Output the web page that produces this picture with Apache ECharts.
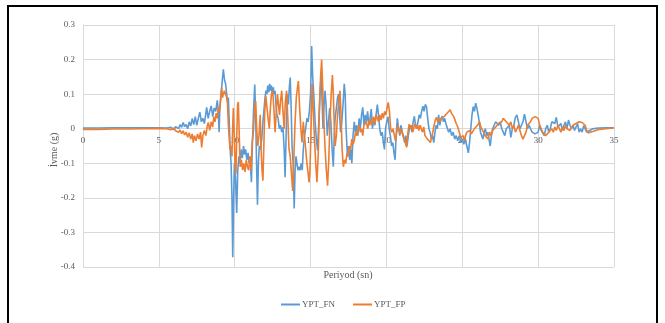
<!DOCTYPE html>
<html>
<head>
<meta charset="utf-8">
<script src="https://cdn.jsdelivr.net/npm/echarts@6/dist/echarts.min.js"></script>
<style>
  html, body { margin: 0; padding: 0; background: #ffffff; }
  #chart { width: 665px; height: 323px; }
</style>
</head>
<body>
<div id="chart"></div>
<script>
// Ground acceleration records (g) against time (s)
const xTicks = [0, 5, 10, 15, 20, 25, 30, 35];
const yTicks = [-0.4, -0.3, -0.2, -0.1, 0, 0.1, 0.2, 0.3];
const seriesNames = ['YPT_FN', 'YPT_FP'];

const fnTime = [
  0, 1, 2, 3, 4, 5, 5.5, 5.8, 6.0, 6.1, 6.3, 6.4, 6.5, 6.6, 6.7, 6.8, 6.9, 7.0, 7.1, 7.2,
  7.3, 7.4, 7.5, 7.6, 7.7, 7.8, 7.9, 8.0, 8.1, 8.15, 8.25, 8.35, 8.45, 8.55, 8.65, 8.75, 8.85, 8.92, 8.97, 9.02,
  9.1, 9.18, 9.25, 9.33, 9.4, 9.47, 9.52, 9.58, 9.63, 9.7, 9.76, 9.82, 9.87, 9.93, 9.98, 10.05, 10.13, 10.2, 10.28, 10.35,
  10.42, 10.5, 10.58, 10.65, 10.72, 10.8, 10.88, 10.95, 11.02, 11.1, 11.16, 11.24, 11.32, 11.38, 11.44, 11.5, 11.56, 11.62, 11.7, 11.78,
  11.86, 11.94, 12.0, 12.06, 12.12, 12.18, 12.24, 12.3, 12.36, 12.42, 12.48, 12.54, 12.6, 12.66, 12.72, 12.78, 12.86, 12.94, 13.02, 13.1,
  13.18, 13.26, 13.32, 13.4, 13.47, 13.54, 13.6, 13.66, 13.72, 13.78, 13.85, 13.92, 13.98, 14.04, 14.1, 14.17, 14.24, 14.31, 14.38, 14.45,
  14.52, 14.6, 14.68, 14.76, 14.84, 14.92, 15.0, 15.07, 15.14, 15.22, 15.3, 15.38, 15.46, 15.54, 15.62, 15.7, 15.76, 15.82, 15.88, 15.95,
  16.02, 16.1, 16.18, 16.26, 16.34, 16.42, 16.5, 16.56, 16.62, 16.7, 16.78, 16.84, 16.9, 16.98, 17.06, 17.14, 17.22, 17.28, 17.34, 17.42,
  17.5, 17.58, 17.66, 17.72, 17.8, 17.88, 17.96, 18.04, 18.12, 18.2, 18.28, 18.36, 18.44, 18.52, 18.6, 18.68, 18.76, 18.84, 18.92, 19.0,
  19.08, 19.16, 19.24, 19.32, 19.4, 19.48, 19.56, 19.64, 19.72, 19.8, 19.87, 19.94, 20.02, 20.1, 20.18, 20.26, 20.34, 20.42, 20.5, 20.57,
  20.64, 20.72, 20.8, 20.88, 20.96, 21.04, 21.12, 21.2, 21.28, 21.36, 21.44, 21.52, 21.6, 21.68, 21.76, 21.84, 21.92, 22.0, 22.08, 22.16,
  22.24, 22.32, 22.4, 22.48, 22.56, 22.64, 22.72, 22.8, 22.88, 22.96, 23.04, 23.12, 23.2, 23.28, 23.36, 23.44, 23.52, 23.6, 23.68, 23.76,
  23.84, 23.92, 24.0, 24.1, 24.2, 24.3, 24.4, 24.5, 24.6, 24.7, 24.8, 24.9, 25.0, 25.1, 25.2, 25.3, 25.4, 25.48, 25.56, 25.64,
  25.72, 25.8, 25.88, 25.96, 26.04, 26.12, 26.2, 26.28, 26.36, 26.44, 26.52, 26.6, 26.68, 26.76, 26.84, 26.92, 27.0, 27.1, 27.2, 27.3,
  27.4, 27.5, 27.6, 27.7, 27.8, 27.9, 28.0, 28.1, 28.2, 28.3, 28.4, 28.5, 28.6, 28.7, 28.8, 28.9, 29.0, 29.1, 29.2, 29.3,
  29.4, 29.5, 29.6, 29.7, 29.8, 29.9, 30.0, 30.1, 30.2, 30.3, 30.4, 30.5, 30.6, 30.7, 30.8, 30.9, 31.0, 31.1, 31.2, 31.3,
  31.4, 31.5, 31.6, 31.7, 31.8, 31.9, 32.0, 32.1, 32.2, 32.3, 32.4, 32.5, 32.6, 32.7, 32.8, 32.9, 33.0, 33.2, 33.4, 33.6,
  33.8, 34.0, 34.5, 35.0
];
const fnAccel = [
  0.002, 0.002, 0.003, 0.003, 0.003, 0.003, 0.002, 0.004, -0.003, 0.006, 0.0, 0.012, 0.004, 0.018, 0.006, 0.012, 0.0, 0.02, 0.008, 0.03,
  0.012, 0.035, 0.01, 0.03, 0.048, 0.02, 0.03, 0.015, 0.045, 0.062, 0.03, 0.05, 0.066, 0.035, 0.06, 0.05, 0.082, 0.05, -0.01, 0.06,
  0.1, 0.14, 0.172, 0.14, 0.13, 0.1, 0.08, 0.09, 0.03, -0.06, -0.1, -0.2, -0.372, -0.2, -0.1, -0.14, -0.244, -0.12, -0.08, -0.1,
  -0.06, -0.085, -0.05, -0.075, -0.06, -0.09, -0.07, -0.1, -0.09, -0.155, -0.05, 0.05, 0.128, 0.04, -0.1, -0.22, -0.1, -0.05, -0.06, -0.03,
  0.02, 0.06, 0.09, 0.11, 0.1, 0.125, 0.105, 0.13, 0.11, 0.125, 0.095, 0.12, 0.1, 0.11, 0.07, 0.04, 0.03, 0.0, 0.01, -0.01,
  0.005, -0.06, -0.14, 0.0, 0.1, 0.07, 0.12, 0.148, 0.06, -0.05, -0.1, -0.231, -0.12, -0.08, -0.1, -0.12, -0.11, -0.12, -0.1, -0.12,
  -0.06, -0.02, 0.0, 0.03, 0.02, 0.05, 0.1, 0.239, 0.15, 0.09, 0.02, -0.03, -0.063, 0.02, 0.1, 0.155, 0.08, 0.0, 0.06, 0.11,
  0.07, -0.02, 0.02, 0.06, 0.02, -0.06, -0.11, -0.02, 0.03, 0.06, 0.09, 0.1, 0.05, -0.01, 0.02, 0.07, 0.13, 0.1, 0.0, -0.07,
  -0.05, -0.09, -0.06, -0.1, -0.02, 0.02, -0.01, 0.01, -0.02, 0.03, 0.0, 0.04, 0.062, 0.01, 0.04, 0.02, 0.05, 0.01, 0.03, 0.057,
  0.0, 0.03, 0.01, 0.04, 0.07, 0.04, 0.0, -0.02, -0.01, -0.04, -0.06, 0.0, 0.02, 0.035, 0.0, -0.02, -0.05, -0.04, -0.07, -0.09,
  -0.02, 0.03, 0.0, -0.02, 0.01, -0.01, -0.02, -0.04, -0.02, -0.05, -0.02, 0.0, 0.01, -0.01, 0.02, 0.036, 0.01, 0.0, 0.02, 0.04,
  0.03, 0.05, 0.065, 0.05, 0.07, 0.064, 0.03, 0.0, -0.01, -0.03, -0.02, -0.04, -0.01, 0.01, 0.0, 0.04, 0.01, 0.03, 0.036, 0.02,
  0.03, 0.015, 0.02, -0.01, 0.0, -0.02, -0.01, -0.03, -0.02, -0.035, -0.02, -0.04, -0.03, -0.045, -0.03, -0.05, -0.07, -0.04, 0.0, 0.04,
  0.064, 0.05, 0.074, 0.06, 0.04, 0.02, -0.01, -0.02, -0.03, -0.01, 0.0, -0.02, -0.01, -0.03, -0.05, -0.02, 0.0, 0.01, 0.02, 0.025,
  0.01, 0.02, 0.0, -0.01, -0.02, 0.0, 0.005, 0.01, -0.025, 0.0, 0.01, 0.033, 0.04, 0.02, 0.0, 0.01, 0.02, 0.042, 0.02, 0.0,
  0.01, 0.01, -0.01, -0.01, -0.015, -0.02, -0.01, 0.01, -0.005, 0.0, -0.02, 0.0, 0.01, -0.01, 0.0, 0.02, 0.025, 0.015, 0.033, 0.005,
  0.0, 0.015, -0.005, 0.01, 0.02, 0.0, 0.025, 0.01, 0.0, 0.01, -0.005, 0.005, 0.015, -0.01, 0.0, -0.01, 0.009, -0.01, -0.005, 0.0,
  0.001, 0.002, 0.003, 0.003
];

const fpTime = [
  0, 1, 2, 3, 4, 5, 5.5, 5.8, 6.0, 6.1, 6.2, 6.3, 6.4, 6.5, 6.6, 6.7, 6.8, 6.9, 7.0, 7.1,
  7.2, 7.27, 7.35, 7.45, 7.55, 7.65, 7.75, 7.82, 7.9, 8.0, 8.1, 8.2, 8.26, 8.35, 8.45, 8.55, 8.62, 8.7, 8.78, 8.85,
  8.92, 9.0, 9.07, 9.14, 9.2, 9.25, 9.32, 9.4, 9.47, 9.52, 9.58, 9.64, 9.7, 9.76, 9.82, 9.86, 9.91, 9.96, 10.02, 10.08,
  10.13, 10.19, 10.24, 10.3, 10.36, 10.44, 10.52, 10.6, 10.68, 10.76, 10.84, 10.92, 11.0, 11.08, 11.15, 11.23, 11.3, 11.38, 11.45, 11.52,
  11.6, 11.68, 11.74, 11.8, 11.86, 11.92, 11.98, 12.05, 12.12, 12.2, 12.28, 12.35, 12.42, 12.5, 12.58, 12.66, 12.74, 12.82, 12.88, 12.95,
  13.02, 13.1, 13.18, 13.26, 13.34, 13.42, 13.5, 13.58, 13.66, 13.74, 13.82, 13.9, 13.98, 14.06, 14.14, 14.2, 14.28, 14.36, 14.44, 14.52,
  14.6, 14.68, 14.76, 14.84, 14.9, 14.96, 15.02, 15.1, 15.18, 15.26, 15.34, 15.42, 15.5, 15.58, 15.66, 15.73, 15.8, 15.88, 15.96, 16.04,
  16.12, 16.2, 16.28, 16.36, 16.44, 16.5, 16.56, 16.62, 16.7, 16.78, 16.86, 16.94, 17.0, 17.08, 17.16, 17.24, 17.32, 17.4, 17.48, 17.56,
  17.64, 17.72, 17.8, 17.88, 17.96, 18.04, 18.12, 18.2, 18.28, 18.36, 18.44, 18.52, 18.6, 18.68, 18.76, 18.84, 18.92, 19.0, 19.08, 19.16,
  19.24, 19.32, 19.4, 19.48, 19.56, 19.64, 19.72, 19.8, 19.88, 19.96, 20.04, 20.12, 20.2, 20.28, 20.36, 20.44, 20.52, 20.6, 20.68, 20.76,
  20.84, 20.92, 21.0, 21.08, 21.16, 21.24, 21.33, 21.42, 21.5, 21.58, 21.66, 21.74, 21.82, 21.9, 21.98, 22.06, 22.14, 22.22, 22.3, 22.38,
  22.46, 22.54, 22.62, 22.7, 22.8, 22.9, 22.98, 23.06, 23.14, 23.22, 23.3, 23.38, 23.46, 23.54, 23.62, 23.7, 23.8, 23.9, 24.0, 24.1,
  24.2, 24.28, 24.36, 24.44, 24.52, 24.6, 24.7, 24.8, 24.9, 24.98, 25.06, 25.14, 25.22, 25.3, 25.4, 25.5, 25.6, 25.7, 25.8, 25.9,
  26.0, 26.06, 26.14, 26.22, 26.3, 26.4, 26.5, 26.6, 26.7, 26.8, 26.9, 27.0, 27.1, 27.2, 27.3, 27.4, 27.5, 27.6, 27.7, 27.8,
  27.9, 28.0, 28.1, 28.2, 28.3, 28.4, 28.5, 28.6, 28.7, 28.8, 28.9, 29.0, 29.1, 29.2, 29.3, 29.4, 29.5, 29.6, 29.7, 29.8,
  29.9, 30.0, 30.1, 30.2, 30.3, 30.4, 30.5, 30.6, 30.7, 30.8, 30.9, 31.0, 31.1, 31.2, 31.3, 31.4, 31.5, 31.6, 31.7, 31.8,
  31.9, 32.0, 32.1, 32.2, 32.3, 32.4, 32.5, 32.6, 32.7, 32.8, 32.9, 33.0, 33.1, 33.2, 33.3, 33.4, 33.6, 33.8, 34.0, 34.5,
  35.0
];
const fpAccel = [
  -0.002, -0.002, -0.001, -0.001, 0.0, 0.001, 0.0, -0.003, 0.002, -0.006, -0.002, -0.01, -0.004, -0.014, -0.006, -0.018, -0.01, -0.025, -0.012, -0.03,
  -0.015, -0.04, -0.02, -0.035, -0.015, -0.03, -0.01, -0.054, -0.02, -0.005, -0.02, 0.01, 0.018, -0.005, 0.02, 0.005, 0.035, 0.02, 0.045, 0.03,
  0.061, 0.05, 0.085, 0.118, 0.09, 0.1, 0.11, 0.1, 0.09, 0.075, 0.013, -0.03, -0.06, -0.05, -0.08, 0.0, 0.06, 0.0, -0.1, -0.13,
  -0.03, 0.07, 0.077, -0.02, -0.11, -0.09, -0.12, -0.1, -0.125, -0.09, -0.11, -0.12, -0.08, -0.12, -0.04, -0.01, 0.05, 0.08, 0.0, -0.05,
  -0.02, 0.04, -0.06, -0.12, -0.15, -0.05, 0.05, 0.095, 0.1, 0.03, 0.0, 0.06, 0.1, 0.11, 0.06, -0.01, 0.05, 0.1, 0.1, 0.04,
  0.08, 0.11, 0.05, 0.0, 0.08, 0.11, 0.03, -0.06, -0.08, -0.13, -0.18, -0.08, 0.02, 0.09, 0.12, 0.138, 0.06, 0.0, -0.04, 0.02,
  -0.02, -0.06, -0.1, -0.13, -0.155, -0.12, -0.02, 0.13, 0.05, -0.03, -0.1, -0.155, -0.08, 0.05, 0.15, 0.2, 0.12, 0.02, -0.06, -0.12,
  -0.165, -0.09, 0.02, 0.1, 0.155, 0.1, 0.01, -0.05, -0.02, 0.04, 0.08, 0.11, 0.05, -0.06, -0.11, -0.09, -0.1, -0.07, -0.08, -0.05,
  -0.06, -0.03, -0.045, -0.035, -0.01, -0.02, 0.0, 0.01, -0.01, 0.0, -0.02, 0.01, 0.005, 0.02, 0.0, 0.015, 0.03, 0.01, 0.02, 0.035,
  0.015, 0.04, 0.03, 0.02, 0.04, 0.025, 0.045, 0.03, 0.05, 0.04, 0.06, 0.076, 0.05, 0.0, -0.01, 0.0, -0.02, -0.035, -0.01, 0.01,
  -0.005, -0.015, 0.0, -0.02, -0.03, -0.04, -0.054, -0.01, 0.013, 0.0, 0.01, -0.01, 0.005, 0.015, 0.0, 0.01, -0.005, 0.01, 0.0, -0.01,
  0.005, -0.02, -0.015, -0.03, -0.025, -0.04, -0.045, -0.01, 0.01, 0.025, 0.033, 0.02, 0.028, 0.02, 0.03, 0.025, 0.035, 0.03, 0.045, 0.04,
  0.055, 0.045, 0.05, 0.035, 0.03, 0.015, 0.005, -0.01, -0.025, -0.03, -0.02, -0.036, -0.02, -0.01, -0.015, -0.005, -0.015, -0.01, 0.0, 0.005,
  0.01, 0.015, 0.02, 0.005, 0.0, -0.01, -0.02, -0.025, -0.03, -0.01, -0.02, -0.005, -0.01, 0.005, 0.0, 0.015, 0.01, 0.02, 0.03, 0.035,
  0.02, 0.025, 0.01, 0.02, 0.0, 0.01, -0.01, 0.0, 0.01, -0.005, -0.02, -0.03, -0.035, -0.01, 0.01, 0.005, 0.02, 0.03, 0.025, 0.035,
  0.04, 0.03, 0.01, 0.0, -0.01, -0.015, -0.02, -0.025, -0.01, -0.015, 0.0, -0.01, 0.005, -0.005, 0.01, 0.0, -0.01, 0.005, -0.005, 0.01,
  0.0, 0.005, -0.005, 0.0, 0.01, 0.005, 0.015, 0.01, 0.02, 0.015, 0.018, 0.02, 0.01, -0.005, -0.012, -0.01, -0.008, -0.005, -0.002, 0.0,
  0.003
];

const pairs = (ts, vs) => ts.map((t, i) => [t, vs[i]]);
const serif = '"Liberation Serif", "DejaVu Serif", serif';
const labelGray = '#595959';
const gridGray = '#D9D9D9';

// plot area box
const plotLeft = 83, plotRight = 51, plotTop = 25, plotBottom = 56;
const plotHeight = 323 - plotTop - plotBottom;
// distance from the bottom edge of the plot up to the zero line of the value axis
const zeroLift = plotHeight * (0 - yTicks[0]) / (yTicks[yTicks.length - 1] - yTicks[0]);

const chart = echarts.init(document.getElementById('chart'), null, { renderer: 'canvas' });
chart.setOption({
  animation: false,
  backgroundColor: '#ffffff',
  color: ['#5B9BD5', '#ED7D31'],
  graphic: [
    {
      type: 'rect',
      silent: true,
      z: 100,
      shape: { x: 8, y: 6, width: 649, height: 330 },
      style: { fill: 'none', stroke: '#000000', lineWidth: 2 }
    },
    {
      // horizontal axis title, under the plot area
      type: 'text',
      silent: true,
      x: 348,
      y: 275,
      style: {
        text: 'Periyod (sn)', fontFamily: serif, fontSize: 10, fill: labelGray,
        align: 'center', verticalAlign: 'middle'
      }
    },
    {
      // vertical axis title, reading upwards
      type: 'text',
      silent: true,
      x: 54,
      y: 150,
      rotation: Math.PI / 2,
      style: {
        text: 'İvme (g)', fontFamily: serif, fontSize: 10, fill: labelGray,
        align: 'center', verticalAlign: 'middle'
      }
    }
  ],
  grid: {
    left: plotLeft, right: plotRight, top: plotTop, bottom: plotBottom,
    containLabel: false, outerBoundsMode: 'none'
  },
  legend: {
    data: seriesNames,
    left: 276,
    top: 295,
    icon: 'rect',
    itemWidth: 19,
    itemHeight: 2,
    itemGap: 18,
    textStyle: { fontFamily: serif, fontSize: 9, color: labelGray, padding: [0, 0, 0, -3] }
  },
  xAxis: {
    type: 'value',
    position: 'bottom',
    offset: -zeroLift,
    min: xTicks[0],
    max: xTicks[xTicks.length - 1],
    interval: xTicks[1] - xTicks[0],
    axisLine: { show: true, onZero: false, lineStyle: { color: gridGray, width: 1 } },
    axisTick: { show: false },
    axisLabel: { fontFamily: serif, fontSize: 9, color: labelGray, margin: 7 },
    splitLine: { show: true, lineStyle: { color: gridGray, width: 1 } }
  },
  yAxis: {
    type: 'value',
    min: yTicks[0],
    max: yTicks[yTicks.length - 1],
    interval: 0.1,
    axisLine: { show: true, onZero: false, lineStyle: { color: gridGray } },
    axisTick: { show: false },
    axisLabel: {
      fontFamily: serif, fontSize: 9, color: labelGray, margin: 8,
      formatter: v => String(Number(v.toFixed(1)))
    },
    splitLine: { show: true, lineStyle: { color: gridGray, width: 1 } }
  },
  series: [
    {
      name: seriesNames[0], type: 'line', data: pairs(fnTime, fnAccel),
      showSymbol: false, lineStyle: { width: 1.6 }, z: 2
    },
    {
      name: seriesNames[1], type: 'line', data: pairs(fpTime, fpAccel),
      showSymbol: false, lineStyle: { width: 1.6 }, z: 3
    }
  ]
});
</script>
</body>
</html>
